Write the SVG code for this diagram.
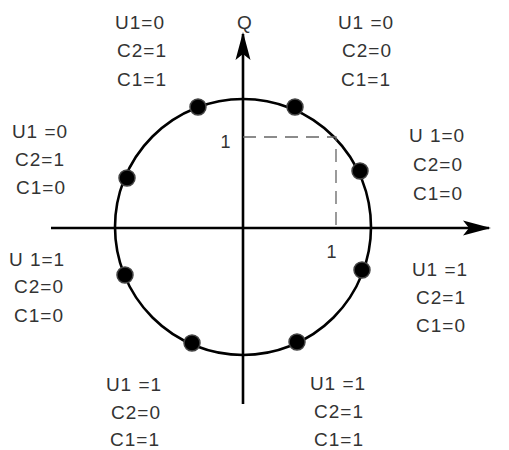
<svg xmlns="http://www.w3.org/2000/svg" width="509" height="450" viewBox="0 0 509 450">
<style>
  .lbl { font-family: "Liberation Sans", Arial, sans-serif; font-size: 19px; fill: #333; text-anchor: middle; letter-spacing: 1px; }
  .ax { stroke: #000; stroke-width: 2.6; fill: none; }
  .dash { stroke: #666; stroke-width: 1.3; stroke-dasharray: 13 8; fill: none; }
  .dot { fill: #000; stroke: #444; stroke-width: 1.5; }
</style>
<defs>
  <marker id="arr" viewBox="0 0 28 18" refX="26" refY="9" markerWidth="28" markerHeight="18" markerUnits="userSpaceOnUse" orient="auto">
    <path d="M0,1.5 L28,9 L0,16.5 L6,9 Z" fill="#000"/>
  </marker>
</defs>
<rect width="509" height="450" fill="#fff"/>
<g id="connectors">
  <line class="ax" x1="51" y1="228" x2="489" y2="228" marker-end="url(#arr)"/>
  <line class="ax" x1="243" y1="404" x2="243" y2="34" marker-end="url(#arr)"/>
  <circle id="circle" class="ax" cx="243" cy="227" r="128"/>
  <path class="dash" d="M243,137 H336 V228"/>
</g>
<g id="axis-labels">
  <text class="lbl" x="245" y="29">Q</text>
  <text class="lbl" x="226" y="148" style="font-size:18px">1</text>
  <text class="lbl" x="332" y="258" style="font-size:18px">1</text>
</g>
<g id="p011">
  <circle class="dot" cx="198" cy="107" r="8"/>
  <text class="lbl" x="140" y="29">U1=0</text>
  <text class="lbl" x="142" y="57">C2=1</text>
  <text class="lbl" x="142" y="86">C1=1</text>
</g>
<g id="p001">
  <circle class="dot" cx="295" cy="107" r="8"/>
  <text class="lbl" x="366" y="29">U1 =0</text>
  <text class="lbl" x="367" y="57">C2=0</text>
  <text class="lbl" x="366" y="86">C1=1</text>
</g>
<g id="p000">
  <circle class="dot" cx="360" cy="171" r="8"/>
  <text class="lbl" x="437" y="142">U 1=0</text>
  <text class="lbl" x="438" y="171">C2=0</text>
  <text class="lbl" x="438" y="200">C1=0</text>
</g>
<g id="p010">
  <circle class="dot" cx="127" cy="178" r="8"/>
  <text class="lbl" x="40" y="138">U1 =0</text>
  <text class="lbl" x="40" y="166">C2=1</text>
  <text class="lbl" x="41" y="194">C1=0</text>
</g>
<g id="p100">
  <circle class="dot" cx="125" cy="275" r="8"/>
  <text class="lbl" x="37" y="266">U 1=1</text>
  <text class="lbl" x="39" y="293">C2=0</text>
  <text class="lbl" x="39" y="322">C1=0</text>
</g>
<g id="p110">
  <circle class="dot" cx="362" cy="270" r="8"/>
  <text class="lbl" x="440" y="276">U1 =1</text>
  <text class="lbl" x="441" y="304">C2=1</text>
  <text class="lbl" x="441" y="332">C1=0</text>
</g>
<g id="p101">
  <circle class="dot" cx="192" cy="343" r="8"/>
  <text class="lbl" x="134" y="391">U1 =1</text>
  <text class="lbl" x="136" y="419">C2=0</text>
  <text class="lbl" x="135" y="446">C1=1</text>
</g>
<g id="p111">
  <circle class="dot" cx="297" cy="342" r="8"/>
  <text class="lbl" x="338" y="390">U1 =1</text>
  <text class="lbl" x="339" y="418">C2=1</text>
  <text class="lbl" x="339" y="446">C1=1</text>
</g>
</svg>
